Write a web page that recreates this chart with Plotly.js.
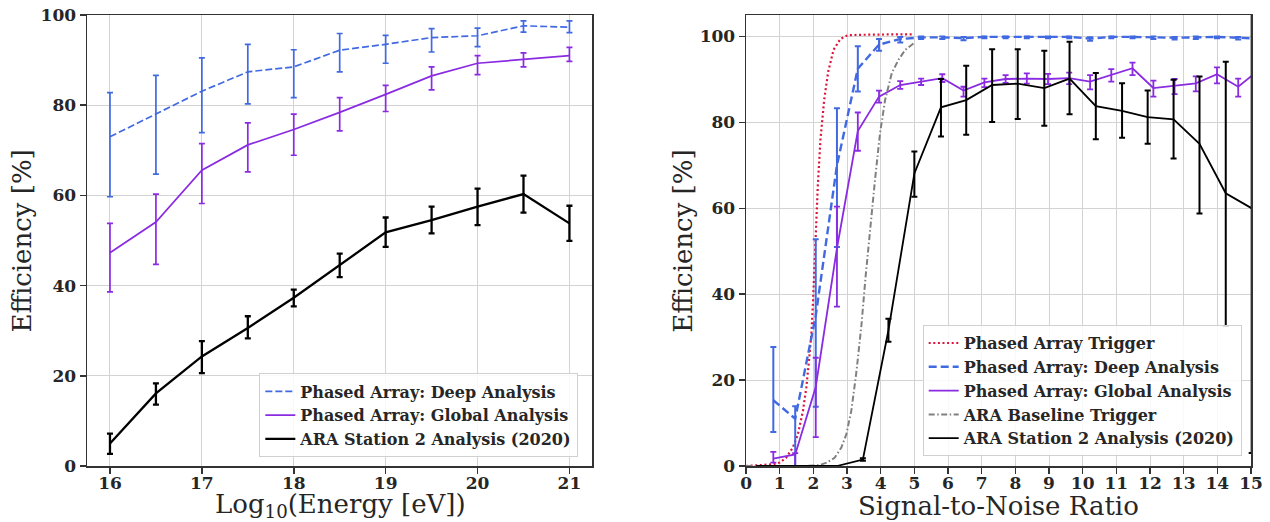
<!DOCTYPE html>
<html>
<head>
<meta charset="utf-8">
<script src="https://cdn.plot.ly/plotly-3.0.1.min.js"></script>
<style>html,body{margin:0;padding:0;background:#fff;}#chart{width:1270px;height:522px;}</style>
</head>
<body>
<div id="chart"></div>
<script>
// ---------- Left panel: efficiency vs log10(energy) ----------
const energy = [16, 16.5, 17, 17.5, 18, 18.5, 19, 19.5, 20, 20.5, 21];
const deepE = [73.0, 78.0, 83.1, 87.4, 88.5, 92.2, 93.5, 95.0, 95.4, 97.6, 97.3];
const deepEPlus = [9.8, 8.6, 7.4, 6.1, 3.8, 3.7, 2.0, 2.0, 1.7, 1.1, 1.4];
const deepEMinus = [13.3, 13.3, 9.2, 7.1, 6.8, 4.8, 4.2, 3.2, 2.4, 1.4, 1.2];
const globalE = [47.3, 54.1, 65.6, 71.2, 74.6, 78.4, 82.4, 86.5, 89.3, 90.1, 91.0];
const globalEPlus = [6.5, 6.2, 5.9, 4.9, 3.4, 3.3, 2.0, 2.0, 1.7, 1.5, 1.8];
const globalEMinus = [8.7, 9.4, 7.4, 6.0, 5.7, 4.1, 3.8, 3.1, 2.5, 1.6, 1.3];
const araE = [5.0, 16.1, 24.3, 30.6, 37.3, 44.5, 51.8, 54.5, 57.5, 60.3, 53.8];
const araEPlus = [2.2, 2.2, 3.4, 2.6, 1.8, 2.6, 3.3, 3.0, 4.0, 4.1, 3.9];
const araEMinus = [2.3, 2.5, 3.7, 2.3, 1.9, 2.6, 3.2, 2.9, 4.1, 4.1, 3.9];

// ---------- Right panel: efficiency vs SNR ----------
const snrPA = [0.81, 1.46, 2.07, 2.70, 3.32, 3.95, 4.58, 5.20, 5.83, 6.46, 7.08, 7.71, 8.34, 8.97, 9.60, 10.22, 10.85, 11.48, 12.10, 12.73, 13.36, 13.99, 14.62, 15.25];
const deepS = [15.3, 11.0, 35.0, 70.0, 92.5, 98.1, 99.4, 99.8, 99.8, 99.6, 99.9, 99.9, 99.9, 99.9, 99.9, 99.5, 99.9, 99.9, 99.8, 99.7, 99.8, 99.9, 99.7, 99.5];
const deepSPlus = [12.4, 2.9, 17.8, 13.3, 5.2, 1.3, 0.5, 0.2, 0.2, 0.3, 0.1, 0.1, 0.1, 0.1, 0.1, 0.3, 0.1, 0.1, 0.2, 0.2, 0.2, 0.1, 0.2, 0.3];
const deepSMinus = [7.4, 11.0, 21.2, 19.0, 5.3, 1.4, 0.8, 0.4, 0.4, 0.5, 0.3, 0.3, 0.3, 0.3, 0.3, 0.5, 0.3, 0.3, 0.4, 0.4, 0.4, 0.3, 0.4, 0.5];
const globalS = [1.7, 2.7, 18.4, 50.7, 78.0, 86.0, 88.7, 89.5, 90.3, 87.4, 89.3, 90.1, 90.2, 90.1, 90.3, 89.5, 91.0, 92.6, 88.0, 88.5, 89.1, 91.2, 88.3, 92.3];
const globalSPlus = [1.6, 0.3, 6.8, 9.7, 4.3, 1.4, 0.9, 0.7, 0.9, 0.9, 0.9, 0.9, 1.2, 1.2, 1.3, 1.5, 1.4, 1.3, 1.7, 1.6, 1.6, 1.6, 1.9, 1.8];
const globalSMinus = [0.9, 2.7, 11.7, 13.6, 4.6, 1.4, 0.9, 0.8, 0.9, 1.4, 1.1, 0.9, 1.2, 1.2, 1.4, 1.8, 1.5, 1.6, 2.0, 1.9, 1.9, 2.1, 2.3, 2.2];

const snrARA = [0.39, 1.16, 1.93, 2.70, 3.47, 4.23, 5.00, 5.79, 6.54, 7.31, 8.07, 8.86, 9.61, 10.39, 11.17, 11.93, 12.70, 13.47, 14.25, 15.02];
const araS = [0, 0, 0, 0, 1.5, 31.6, 68.1, 83.5, 85.2, 88.7, 89.0, 88.0, 90.2, 83.8, 82.7, 81.2, 80.7, 75.0, 63.5, 60.0];
const araSPlus = [0, 0, 0, 0, 0.3, 2.7, 5.1, 6.6, 8.0, 8.3, 8.0, 8.7, 8.6, 7.7, 6.4, 6.2, 9.2, 15.7, 30.6, 57.0];
const araSMinus = [0, 0, 0, 0, 0.3, 2.7, 5.4, 6.8, 8.1, 8.6, 8.2, 8.8, 8.3, 7.7, 6.3, 6.2, 9.1, 16.2, 30.9, 57.0];

const snrPATrig = [0, 0.8, 1.0, 1.19, 1.39, 1.54, 1.69, 1.79, 1.87, 1.94, 1.99, 2.06, 2.13, 2.21, 2.32, 2.44, 2.60, 2.80, 3.02, 3.5, 4.0, 4.5, 4.95];
const paTrig = [0, 0.4, 0.8, 1.9, 4.3, 7.4, 12.8, 18.3, 24.5, 30.7, 38.5, 52.8, 65.0, 76.0, 85.2, 91.8, 96.9, 99.4, 100.3, 100.4, 100.5, 100.5, 100.5];

const snrARATrig = [0, 1.0, 1.8, 2.18, 2.40, 2.63, 2.83, 2.98, 3.13, 3.28, 3.43, 3.55, 3.67, 3.83, 3.98, 4.13, 4.33, 4.53, 4.73, 4.98];
const araTrig = [0, 0, 0, 0.2, 0.8, 1.9, 4.3, 7.4, 13.0, 22.0, 33.0, 44.0, 54.2, 66.6, 77.5, 85.2, 91.5, 94.6, 96.9, 98.4];

const tickE = [16, 17, 18, 19, 20, 21];
const tickSNR = [0,1,2,3,4,5,6,7,8,9,10,11,12,13,14,15];
const tickEff = [0, 20, 40, 60, 80, 100];

const labels = {
  trig: "Phased Array Trigger",
  deep: "Phased Array: Deep Analysis",
  glob: "Phased Array: Global Analysis",
  araTrig: "ARA Baseline Trigger",
  ara: "ARA Station 2 Analysis (2020)"
};
const axisTitles = {
  energy: "Log<sub>10</sub>(Energy [eV])",
  snr: "Signal-to-Noise Ratio",
  eff: "Efficiency [%]"
};

const BLUE = "#4169E1", PURPLE = "#8A2BE2", RED = "#DC143C", GREY = "#808080", BLACK = "#000000";

function eb(plus, minus, color, thick) {
  return {type: "data", symmetric: false, array: plus, arrayminus: minus, color: color, thickness: thick, width: 3};
}

const traces = [
  // Left panel
  {x: energy, y: deepE, xaxis: "x", yaxis: "y", legend: "legend", name: labels.deep, mode: "lines",
   line: {color: BLUE, width: 1.7, dash: "7px,3px"}, error_y: eb(deepEPlus, deepEMinus, BLUE, 1.7)},
  {x: energy, y: globalE, xaxis: "x", yaxis: "y", legend: "legend", name: labels.glob, mode: "lines",
   line: {color: PURPLE, width: 1.7}, error_y: eb(globalEPlus, globalEMinus, PURPLE, 1.7)},
  {x: energy, y: araE, xaxis: "x", yaxis: "y", legend: "legend", name: labels.ara, mode: "lines",
   line: {color: BLACK, width: 2.3}, error_y: eb(araEPlus, araEMinus, BLACK, 2.3)},
  // Right panel
  {x: snrPATrig, y: paTrig, xaxis: "x2", yaxis: "y2", legend: "legend2", name: labels.trig, mode: "lines",
   line: {color: RED, width: 2.2, dash: "2px,2.6px"}},
  {x: snrPA, y: deepS, xaxis: "x2", yaxis: "y2", legend: "legend2", name: labels.deep, mode: "lines",
   line: {color: BLUE, width: 2.4, dash: "8px,4px"}, error_y: eb(deepSPlus, deepSMinus, BLUE, 2)},
  {x: snrPA, y: globalS, xaxis: "x2", yaxis: "y2", legend: "legend2", name: labels.glob, mode: "lines",
   line: {color: PURPLE, width: 1.8}, error_y: eb(globalSPlus, globalSMinus, PURPLE, 1.8)},
  {x: snrARATrig, y: araTrig, xaxis: "x2", yaxis: "y2", legend: "legend2", name: labels.araTrig, mode: "lines",
   line: {color: GREY, width: 2, dash: "6px,2.5px,1.5px,2.5px"}},
  {x: snrARA, y: araS, xaxis: "x2", yaxis: "y2", legend: "legend2", name: labels.ara, mode: "lines",
   line: {color: BLACK, width: 1.8}, error_y: eb(araSPlus, araSMinus, BLACK, 2)}
];

const tickFont = {family: "DejaVu Serif", size: 17, weight: "bold", color: "#262626"};
const titleFont = {family: "DejaVu Serif", size: 26, color: "#262626"};
const axisBase = {
  showline: true, mirror: true, linecolor: "#333333", linewidth: 1.5,
  ticks: "outside", ticklen: 6, tickwidth: 1.5, tickcolor: "#333333",
  showgrid: true, gridcolor: "#d3d3d3", gridwidth: 1, zeroline: false,
  tickfont: tickFont, fixedrange: true
};
const legendBase = {
  font: {family: "DejaVu Serif", size: 16, weight: "bold", color: "#262626"},
  bgcolor: "rgba(255,255,255,0.85)", bordercolor: "#d0d0d0", borderwidth: 1,
  xanchor: "right", yanchor: "bottom", xref: "paper", yref: "paper", traceorder: "normal"
};

function titleAnn(text, x, y, angle) {
  return {text: text, x: x, y: y, xref: "paper", yref: "paper", showarrow: false,
    xanchor: "center", yanchor: "middle", textangle: angle, font: titleFont};
}

const layout = {
  width: 1270, height: 522,
  margin: {l: 87, r: 19, t: 15, b: 56},
  paper_bgcolor: "#ffffff", plot_bgcolor: "#ffffff",
  showlegend: true,
  xaxis: Object.assign({}, axisBase, {domain: [0, 0.4342], range: [15.75, 21.25], tickvals: tickE, ticklabelstandoff: -5}),
  yaxis: Object.assign({}, axisBase, {domain: [0, 1], range: [0, 100], tickvals: tickEff}),
  xaxis2: Object.assign({}, axisBase, {domain: [0.5662, 1], range: [0, 15], tickvals: tickSNR, anchor: "y2", ticklabelstandoff: -5}),
  yaxis2: Object.assign({}, axisBase, {domain: [0, 1], range: [0, 105], tickvals: tickEff, anchor: "x2"}),
  legend: Object.assign({}, legendBase, {x: 0.4221, y: 0.019}),
  legend2: Object.assign({}, legendBase, {x: 0.992, y: 0.022}),
  annotations: [
    titleAnn(axisTitles.energy, 0.2174, -0.0885, 0),
    titleAnn(axisTitles.snr, 0.7831, -0.0885, 0),
    titleAnn(axisTitles.eff, -0.0555, 0.4986, -90),
    titleAnn(axisTitles.eff, 0.5125, 0.4986, -90)
  ]
};

Plotly.newPlot("chart", traces, layout, {staticPlot: true, displayModeBar: false});
</script>
</body>
</html>
